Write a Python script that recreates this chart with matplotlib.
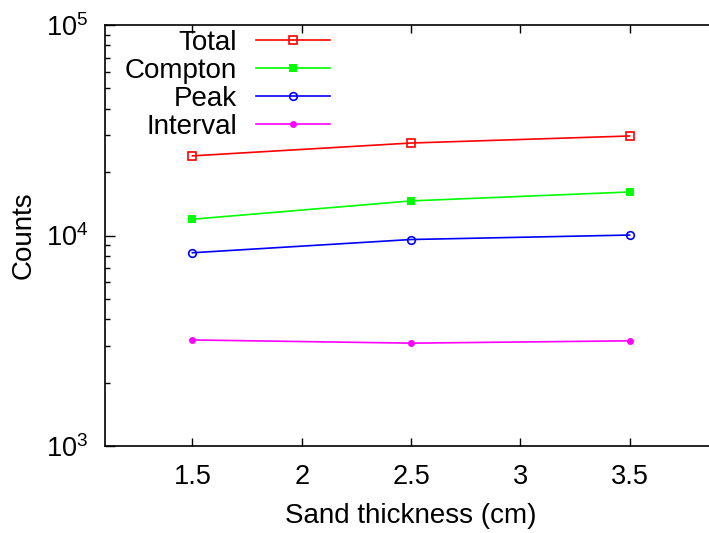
import matplotlib
matplotlib.use("Agg")
import matplotlib.pyplot as plt
from matplotlib.ticker import LogLocator, NullFormatter, FixedLocator

plt.rcParams['font.family'] = ['Liberation Sans', 'DejaVu Sans']
plt.rcParams['mathtext.fontset'] = 'custom'
plt.rcParams['mathtext.rm'] = 'Liberation Sans'

# data
thickness = [1.5, 2.5, 3.5]
total = [23900, 27500, 29700]
compton = [11950, 14600, 16100]
peak = [8280, 9570, 10050]
interval = [3190, 3080, 3160]

fig = plt.figure(figsize=(7.09, 5.33), dpi=100)
# right border of the plot sits just past the image edge
ax = fig.add_axes([105 / 709, 87 / 533, 612 / 709, 421 / 533])

ax.plot(thickness, total, color="#ff0000", lw=1.2, marker="s", ms=5.5,
        mfc="none", mew=1.2, label="Total")
ax.plot(thickness, compton, color="#00ff00", lw=1.2, marker="s", ms=5.5,
        mew=0, label="Compton")
ax.plot(thickness, peak, color="#0000ff", lw=1.2, marker="o", ms=5.5,
        mfc="none", mew=1.2, label="Peak")
ax.plot(thickness, interval, color="#ff00ff", lw=1.2, marker="o", ms=5,
        mew=0, label="Interval")

ax.set_yscale("log")
ax.set_ylim(1e3, 1e5)
ax.set_xlim(1.1, 3.9)
ax.xaxis.set_major_locator(FixedLocator([1.5, 2, 2.5, 3, 3.5]))
ax.set_xticklabels(["1.5", "2", "2.5", "3", "3.5"])
ax.yaxis.set_minor_locator(LogLocator(base=10, subs=range(2, 10)))
ax.yaxis.set_minor_formatter(NullFormatter())

ax.tick_params(axis="x", which="both", direction="in", top=True, bottom=True,
               length=6, width=1, labelsize=19.5, pad=13)
ax.tick_params(axis="y", which="major", direction="in", right=False,
               length=7, width=1, labelsize=19.5, pad=12)
ax.tick_params(axis="y", which="minor", direction="in", right=False,
               length=3.5, width=1)
for s in ax.spines.values():
    s.set_linewidth(1.2)

ax.set_xlabel("Sand thickness (cm)", fontsize=20, labelpad=9)
ax.set_ylabel("Counts", fontsize=20, labelpad=7)

ax.legend(loc="upper right", bbox_to_anchor=((330 - 105) / 612, 0.988),
          frameon=False, markerfirst=False, fontsize=20, handlelength=2.65,
          handletextpad=0.7, labelspacing=0.07, borderaxespad=0.0,
          borderpad=0.0)

fig.savefig("out.png", dpi=100)
